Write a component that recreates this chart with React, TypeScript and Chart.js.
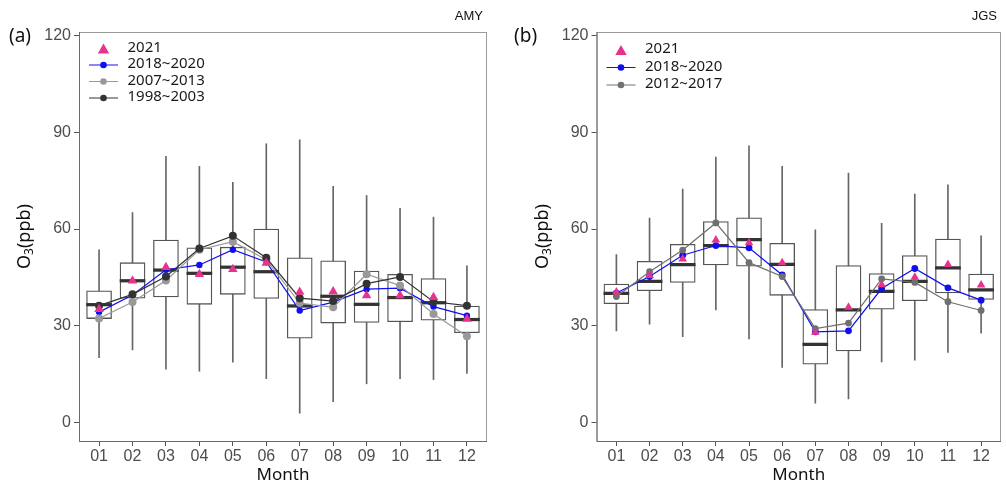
import React, { useEffect, useRef } from "react";
import { Chart, registerables } from "chart.js";

Chart.register(...registerables);

// ---------- data ----------
const monthLabels = ["01", "02", "03", "04", "05", "06", "07", "08", "09", "10", "11", "12"];
const monthPos = [1, 2, 3, 4, 5, 6, 7, 8, 9, 10, 11, 12];
const yTicks = [0, 30, 60, 90, 120];

// AMY (a)
const amyWhiskerLow = [20.2, 22.6, 16.6, 16.0, 18.8, 13.7, 3.0, 6.6, 12.1, 13.7, 13.4, 15.3];
const amyWhiskerHigh = [53.6, 65.1, 82.5, 79.4, 74.5, 86.4, 87.6, 73.2, 70.4, 66.4, 63.7, 48.6];
const amyQ1 = [32.3, 38.6, 39.0, 36.7, 39.8, 38.5, 26.2, 30.9, 31.1, 31.3, 31.8, 27.9];
const amyQ3 = [40.9, 49.6, 56.6, 54.2, 54.4, 60.0, 51.1, 50.2, 47.0, 46.0, 44.7, 36.2];
const amyMedian = [36.6, 44.0, 47.3, 46.3, 48.2, 46.8, 36.2, 39.2, 36.7, 38.8, 37.2, 32.0];
const amy2021 = [35.2, 44.0, 48.2, 46.0, 47.6, 49.5, 40.5, 40.7, 39.4, 39.4, 38.9, 32.2];
const amy2018to2020 = [34.3, 39.6, 47.4, 48.9, 53.6, 49.8, 34.8, 37.4, 41.4, 41.7, 36.0, 33.2];
const amy2007to2013 = [32.3, 37.4, 44.1, 53.6, 56.1, 50.5, 37.1, 35.8, 46.0, 42.5, 33.7, 26.8];
const amy1998to2003 = [36.3, 39.8, 45.3, 54.0, 57.9, 51.1, 38.6, 37.7, 43.1, 45.2, 37.5, 36.3];

// JGS (b)
const jgsWhiskerLow = [28.5, 30.6, 26.7, 35.0, 26.0, 17.2, 6.1, 7.4, 18.9, 19.4, 21.8, 27.8];
const jgsWhiskerHigh = [52.1, 63.4, 72.4, 82.3, 85.8, 79.4, 59.8, 77.3, 61.8, 70.8, 73.7, 57.9];
const jgsQ1 = [36.9, 40.9, 43.5, 48.9, 48.5, 39.5, 18.2, 22.3, 35.2, 37.8, 40.2, 38.2];
const jgsQ3 = [43.0, 50.0, 55.3, 62.3, 63.5, 55.6, 35.1, 48.7, 46.2, 51.8, 56.9, 46.1];
const jgsMedian = [40.1, 43.8, 49.0, 54.9, 56.7, 49.1, 24.3, 35.0, 40.7, 43.8, 48.0, 41.2];
const jgs2021 = [40.5, 45.6, 50.7, 56.6, 55.8, 49.6, 28.1, 35.8, 42.8, 45.1, 49.0, 42.7];
const jgs2018to2020 = [40.2, 45.3, 51.9, 54.9, 54.2, 45.8, 28.2, 28.5, 41.6, 47.8, 41.8, 38.0];
const jgs2012to2017 = [39.1, 46.8, 53.5, 61.9, 49.6, 45.3, 29.2, 30.9, 44.6, 43.5, 37.5, 34.8];

// ---------- styles ----------
const PINK = "#e7338e";
const BLUE = "#1010ee";
const LIGHTGRAY = "#999999";
const DARK = "#333333";
const MIDGRAY = "#707070";
const TICK_FONT = "Liberation Sans, Arial, sans-serif";
const TEXT_FONT = "'Noto Sans', 'Open Sans', sans-serif";

type Series = { label: string; values: number[]; color: string; radius: number; kind: "tri" | "line" };

type PanelProps = {
  left: number;
  width: number;
  yAxisWidth: number;
  padRight: number;
  tag: string;
  tagX: number;
  site: string;
  legendTop: number;
  legendStep: number;
  low: number[];
  high: number[];
  q1: number[];
  q3: number[];
  median: number[];
  series: Series[];
};

const toXY = (vals: number[]) => vals.map((v, i) => ({ x: monthPos[i], y: v }));

function Panel(props: PanelProps) {
  const ref = useRef<HTMLCanvasElement | null>(null);

  useEffect(() => {
    if (!ref.current) return;
    const p = props;

    const decor = {
      id: "decor",
      afterDraw(chart: any) {
        const ctx = chart.ctx;
        const a = chart.chartArea;
        ctx.save();
        // panel border
        ctx.strokeStyle = "#9a9a9a";
        ctx.lineWidth = 1;
        ctx.strokeRect(a.left + 0.5, a.top + 0.5, a.right - a.left - 1, a.bottom - a.top);
        ctx.strokeStyle = "#6a6a6a";
        ctx.beginPath();
        ctx.moveTo(a.left + 0.5, a.top);
        ctx.lineTo(a.left + 0.5, a.bottom + 0.5);
        ctx.lineTo(a.right, a.bottom + 0.5);
        ctx.stroke();

        // tag (a)/(b)
        ctx.fillStyle = "#111";
        ctx.textBaseline = "middle";
        ctx.textAlign = "left";
        ctx.font = `19px ${TEXT_FONT}`;
        ctx.fillText(p.tag, p.tagX, 37);

        // site label
        ctx.font = `13px ${TICK_FONT}`;
        ctx.textAlign = "right";
        ctx.fillText(p.site, a.right - 4, 16);

        // x title
        ctx.font = `17px ${TEXT_FONT}`;
        ctx.textAlign = "center";
        ctx.fillText("Month", (a.left + a.right) / 2, 475);

        // y title with subscript
        ctx.save();
        ctx.translate(a.left - 54, (a.top + a.bottom) / 2);
        ctx.rotate(-Math.PI / 2);
        ctx.textAlign = "left";
        const big = `18px ${TEXT_FONT}`;
        const small = `12px ${TEXT_FONT}`;
        ctx.font = big;
        const wO = ctx.measureText("O").width;
        const wRest = ctx.measureText("(ppb)").width;
        ctx.font = small;
        const w3 = ctx.measureText("3").width;
        const total = wO + w3 + wRest;
        const x0 = -total / 2;
        ctx.font = big;
        ctx.fillText("O", x0, 0);
        ctx.font = small;
        ctx.fillText("3", x0 + wO, 5);
        ctx.font = big;
        ctx.fillText("(ppb)", x0 + wO + w3, 0);
        ctx.restore();

        // legend
        const ix = a.left + 24.5;
        const tx = a.left + 48.5;
        p.series.forEach((s, i) => {
          const y = p.legendTop + i * p.legendStep;
          if (s.kind === "tri") {
            const r = 6;
            const cy = y + 2;
            ctx.fillStyle = s.color;
            ctx.beginPath();
            ctx.moveTo(ix, cy - r);
            ctx.lineTo(ix + r * 0.95, cy + r * 0.65);
            ctx.lineTo(ix - r * 0.95, cy + r * 0.65);
            ctx.closePath();
            ctx.fill();
          } else {
            ctx.strokeStyle = s.color;
            ctx.lineWidth = 1;
            ctx.beginPath();
            ctx.moveTo(ix - 14.5, y + 1);
            ctx.lineTo(ix + 14.5, y + 1);
            ctx.stroke();
            ctx.fillStyle = s.color;
            ctx.beginPath();
            ctx.arc(ix, y + 1, 3.3, 0, Math.PI * 2);
            ctx.fill();
          }
          ctx.fillStyle = "#1a1a1a";
          ctx.font = `15px ${TEXT_FONT}`;
          ctx.textAlign = "left";
          ctx.textBaseline = "middle";
          ctx.fillText(s.label, tx, y);
        });
        ctx.restore();
      },
    };

    const datasets: any[] = [
      {
        type: "bar",
        data: p.low.map((v, i) => ({ x: monthPos[i], y: [v, p.high[i]] })),
        backgroundColor: "#666666",
        borderWidth: 0,
        barThickness: 1,
        grouped: false,
        order: 10,
      },
      {
        type: "bar",
        data: p.q1.map((v, i) => ({ x: monthPos[i], y: [v, p.q3[i]] })),
        backgroundColor: "#ffffff",
        borderColor: "#555555",
        borderWidth: 1.3,
        borderSkipped: false,
        barThickness: 25,
        grouped: false,
        order: 9,
      },
      {
        type: "bar",
        data: p.median.map((v, i) => ({ x: monthPos[i], y: [v - 0.4, v + 0.4] })),
        backgroundColor: "#333333",
        borderWidth: 0,
        barThickness: 25,
        grouped: false,
        order: 8,
      },
    ];

    const lineSeries = p.series.filter((s) => s.kind === "line");
    lineSeries.forEach((s, i) => {
      datasets.push({
        type: "line",
        label: s.label,
        data: toXY(s.values),
        borderColor: s.color,
        borderWidth: 1.2,
        pointRadius: s.radius,
        pointBackgroundColor: s.color,
        pointBorderColor: s.color,
        pointBorderWidth: 0,
        tension: 0,
        fill: false,
        order: 2 + (lineSeries.length - i),
      });
    });
    const tri = p.series.find((s) => s.kind === "tri")!;
    datasets.push({
      type: "line",
      label: tri.label,
      data: toXY(tri.values),
      showLine: false,
      pointStyle: "triangle",
      pointRadius: tri.radius,
      pointBackgroundColor: tri.color,
      pointBorderColor: tri.color,
      pointBorderWidth: 0,
      order: 1,
    });

    const tickFont = { family: TICK_FONT, size: 16 };
    const chart = new Chart(ref.current, {
      type: "bar",
      data: { datasets },
      options: {
        responsive: false,
        animation: false,
        events: [],
        layout: { padding: { top: 32, right: p.padRight, left: 0, bottom: 0 } },
        plugins: { legend: { display: false }, tooltip: { enabled: false } },
        scales: {
          x: {
            type: "linear",
            min: 0.4,
            max: 12.6,
            offset: false,
            afterBuildTicks: (s: any) => {
              s.ticks = monthPos.map((v) => ({ value: v }));
            },
            afterFit: (s: any) => {
              s.height = 42;
            },
            ticks: {
              callback: (v: any) => monthLabels[Math.round(v) - 1],
              font: tickFont,
              color: "#4d4d4d",
              padding: 1,
              autoSkip: false,
              maxRotation: 0,
            },
            grid: {
              display: true,
              offset: false,
              drawOnChartArea: false,
              drawTicks: true,
              tickLength: 5,
              color: "#555555",
              lineWidth: 1,
            },
            border: { display: false },
          },
          y: {
            type: "linear",
            min: -5.6,
            max: 121,
            afterBuildTicks: (s: any) => {
              s.ticks = yTicks.map((v) => ({ value: v }));
            },
            afterFit: (s: any) => {
              s.width = p.yAxisWidth;
            },
            ticks: { font: tickFont, color: "#4d4d4d", padding: 3 },
            grid: {
              display: true,
              offset: false,
              drawOnChartArea: false,
              drawTicks: true,
              tickLength: 5,
              color: "#555555",
              lineWidth: 1,
            },
            border: { display: false },
          },
        },
      } as any,
      plugins: [decor],
    });
    return () => chart.destroy();
  }, []);

  return (
    <canvas
      ref={ref}
      width={props.width}
      height={483}
      style={{ position: "absolute", left: props.left, top: 0, width: props.width, height: 483, display: "block" }}
    />
  );
}

export default function App() {
  return (
    <div style={{ position: "absolute", left: 0, top: 0, width: 1006, height: 483, background: "#ffffff", overflow: "hidden" }}>
      <Panel
        left={0}
        width={500}
        yAxisWidth={79}
        padRight={13}
        tag="(a)"
        tagX={9}
        site="AMY"
        legendTop={47.5}
        legendStep={16.5}
        low={amyWhiskerLow}
        high={amyWhiskerHigh}
        q1={amyQ1}
        q3={amyQ3}
        median={amyMedian}
        series={[
          { label: "2021", values: amy2021, color: PINK, radius: 5.5, kind: "tri" },
          { label: "2018~2020", values: amy2018to2020, color: BLUE, radius: 3.2, kind: "line" },
          { label: "2007~2013", values: amy2007to2013, color: LIGHTGRAY, radius: 4, kind: "line" },
          { label: "1998~2003", values: amy1998to2003, color: DARK, radius: 4, kind: "line" },
        ]}
      />
      <Panel
        left={500}
        width={506}
        yAxisWidth={96.5}
        padRight={1}
        tag="(b)"
        tagX={14}
        site="JGS"
        legendTop={49}
        legendStep={17.5}
        low={jgsWhiskerLow}
        high={jgsWhiskerHigh}
        q1={jgsQ1}
        q3={jgsQ3}
        median={jgsMedian}
        series={[
          { label: "2021", values: jgs2021, color: PINK, radius: 5, kind: "tri" },
          { label: "2018~2020", values: jgs2018to2020, color: BLUE, radius: 3.4, kind: "line" },
          { label: "2012~2017", values: jgs2012to2017, color: MIDGRAY, radius: 3.4, kind: "line" },
        ]}
      />
    </div>
  );
}
